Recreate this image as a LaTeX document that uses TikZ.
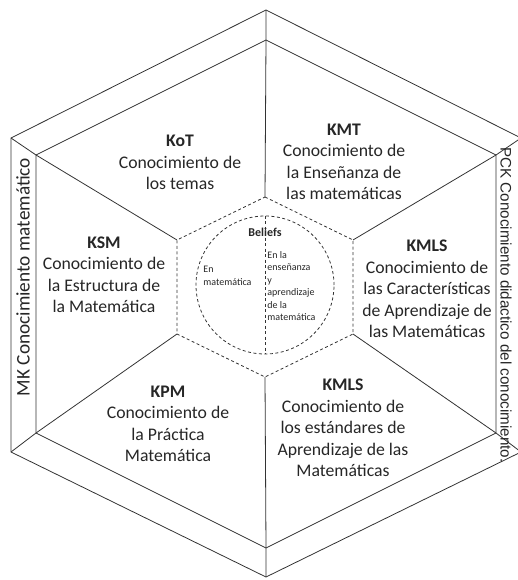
\documentclass[tikz,border=0pt]{standalone}
\usepackage{fontspec}
\setmainfont{Carlito}
\newfontfamily\pckfont{Liberation Sans}

\begin{document}
\begin{tikzpicture}[x=1pt, y=-1pt, line width=0.8pt, black!80]
    \tikzstyle{every node} = [inner sep=0pt, text=black!85]
    \tikzstyle{area} = [align=center, font=\fontsize{17.7}{21.5}\selectfont]
    \tikzstyle{small} = [align=left, font=\fontsize{10}{12.4}\selectfont]
    \tikzstyle{sep} = [dash pattern=on 3pt off 2.5pt]
    \useasboundingbox (0, 0) rectangle (518, 580);
    \coordinate (o1) at (266, 10);
    \coordinate (o2) at (521, 138);
    \coordinate (o3) at (521, 452);
    \coordinate (o4) at (266, 577);
    \coordinate (o5) at (11, 452);
    \coordinate (o6) at (11, 138);
    \coordinate (i1) at (266, 40);
    \coordinate (i2) at (496, 155);
    \coordinate (i3) at (496, 433);
    \coordinate (i4) at (266, 548);
    \coordinate (i5) at (36, 433);
    \coordinate (i6) at (36, 155);
    \coordinate (d1) at (265, 197);
    \coordinate (d2) at (353, 240);
    \coordinate (d3) at (353, 334);
    \coordinate (d4) at (265, 377);
    \coordinate (d5) at (177, 334);
    \coordinate (d6) at (177, 240);
      \draw (o1) -- (o2) -- (o3) -- (o4) -- (o5) -- (o6) -- cycle;
      \draw (i1) -- (i2) -- (i3) -- (i4) -- (i5) -- (i6) -- cycle;
      \draw [sep] (d1) -- (d2) -- (d3) -- (d4) -- (d5) -- (d6) -- cycle;
      \draw (o1) -- (i1) -- (d1);
      \draw (o2) -- (i2) -- (d2);
      \draw (o3) -- (i3) -- (d3);
      \draw (o4) -- (i4) -- (d4);
      \draw (o5) -- (i5) -- (d5);
      \draw (o6) -- (i6) -- (d6);
    \node (circ) [draw, sep, circle, minimum size=138] at (265, 285) {};
      \draw [sep] (circ.north) -- (circ.south);
    \node (beliefs) [font=\fontsize{12}{14}\selectfont\bfseries] at (265, 232) {Beliefs};
    \node (enmat) [small, anchor=west] at (203, 276) {En\\matemática};
    \node (enens) [small, anchor=west] at (267, 286) {En la\\enseñanza\\y\\aprendizaje\\de la\\matemática};
    \node (kot) [area] at (180, 162.5) {\textbf{KoT}\\Conocimiento de\\los temas};
    \node (kmt) [area] at (344, 162) {\textbf{KMT}\\Conocimiento de\\la Enseñanza de\\las matemáticas};
    \node (ksm) [area] at (104, 275) {\textbf{KSM}\\Conocimiento de\\la Estructura de\\la Matemática};
    \node (kmls) [area] at (427, 289) {\textbf{KMLS}\\Conocimiento de\\las Características\\de Aprendizaje de\\las Matemáticas};
    \node (kpm) [area] at (168, 424) {\textbf{KPM}\\Conocimiento de\\la Práctica\\Matemática};
    \node (kmlsb) [area] at (343, 428) {\textbf{KMLS}\\Conocimiento de\\los estándares de\\Aprendizaje de las\\Matemáticas};
    \node (mk) [rotate=90, font=\fontsize{19.3}{22}\selectfont] at (23, 277) {MK Conocimiento matemático};
    \node (pck) [rotate=-90, font=\pckfont\fontsize{15.2}{18}\selectfont] at (506, 305) {PCK Conocimiento didactico del conocimiento.};
\end{tikzpicture}
\end{document}
